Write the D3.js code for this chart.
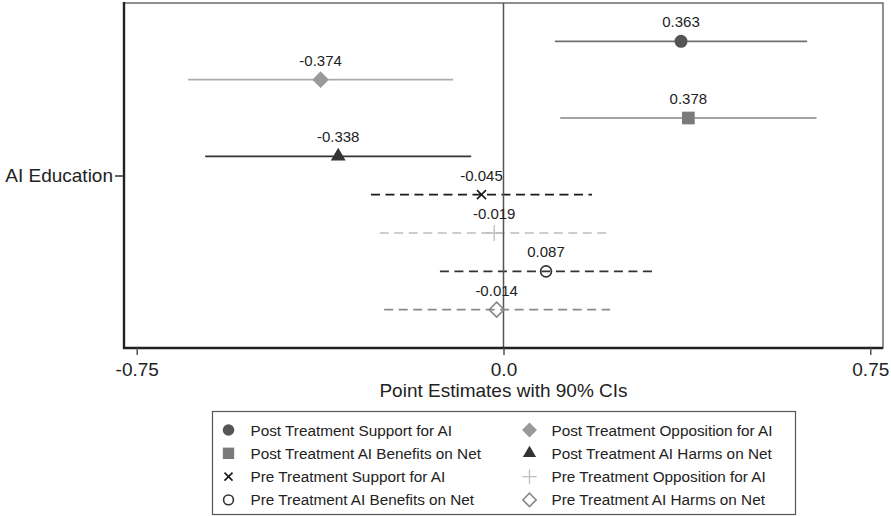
<!DOCTYPE html>
<html lang="en">
<head>
<meta charset="UTF-8">
<title>AI Education coefficient plot</title>
<style>
  body { margin: 0; padding: 0; background: #fff; }
  svg { display: block; font-family: "Liberation Sans", Arial, sans-serif; }
</style>
</head>
<body>
<svg id="chart"></svg>
<script src="https://cdn.jsdelivr.net/npm/d3@7"></script>
<script>
// data
const category = ["AI Education"];
const seriesNames = [
  "Post Treatment Support for AI",
  "Post Treatment Opposition for AI",
  "Post Treatment AI Benefits on Net",
  "Post Treatment AI Harms on Net",
  "Pre Treatment Support for AI",
  "Pre Treatment Opposition for AI",
  "Pre Treatment AI Benefits on Net",
  "Pre Treatment AI Harms on Net"
];
const estimates = [0.363, -0.374, 0.378, -0.338, -0.045, -0.019, 0.087, -0.014];
const ciLow  = [0.105, -0.645, 0.116, -0.610, -0.271, -0.253, -0.130, -0.244];
const ciHigh = [0.621, -0.103, 0.640, -0.066, 0.181, 0.215, 0.305, 0.218];
const xTicks = [-0.75, 0, 0.75];
const xTickLabels = ["-0.75", "0.0", "0.75"];

// styling per series
const marker = ["circle", "diamond", "square", "triangle", "times", "plus", "ocircle", "odiamond"];
const markColor = ["#555", "#9a9a9a", "#7a7a7a", "#333", "#1a1a1a", "#bdbdbd", "#333", "#888"];
const lineColor = ["#707070", "#ababab", "#858585", "#333", "#1a1a1a", "#bdbdbd", "#333", "#8a8a8a"];
const dashed = [false, false, false, false, true, true, true, true];

const width = 891, height = 516;
const plotLeft = 124, plotRight = 883, plotTop = 3, plotBottom = 348;

const svg = d3.select("#chart").attr("width", width).attr("height", height);

const x = d3.scaleLinear().domain([-0.776, 0.776]).range([plotLeft, plotRight]);
const y = d3.scaleLinear().domain([0, seriesNames.length + 1]).range([plotTop, plotBottom]);

function symbolPath(kind, scale) {
  const s = scale || 1;
  const types = {
    circle: [d3.symbolCircle, 133],
    diamond: [d3.symbolDiamond2, 176],
    square: [d3.symbolSquare, 161],
    triangle: [d3.symbolTriangle, 95],
    times: [d3.symbolTimes, 55],
    plus: [d3.symbolPlus, 86],
    ocircle: [d3.symbolCircle, 95],
    odiamond: [d3.symbolDiamond2, 143]
  };
  const t = types[kind];
  return d3.symbol().type(t[0]).size(t[1] * s)();
}
function isStroke(kind) {
  return ["times", "plus", "ocircle", "odiamond"].includes(kind);
}
function drawMarker(g, i, scale) {
  const k = marker[i];
  g.append("path")
    .attr("d", symbolPath(k, scale))
    .attr("fill", isStroke(k) ? "none" : markColor[i])
    .attr("stroke", isStroke(k) ? markColor[i] : "none")
    .attr("stroke-width", k === "plus" ? 1.3 : 1.6);
}

// frame (top / right thinner)
svg.append("rect")
  .attr("x", plotLeft).attr("y", plotTop)
  .attr("width", plotRight - plotLeft).attr("height", plotBottom - plotTop)
  .attr("fill", "none").attr("stroke", "#555").attr("stroke-width", 1.3);

const rows = d3.range(seriesNames.length);

// confidence intervals
svg.append("g").selectAll("line").data(rows).join("line")
  .attr("x1", i => x(ciLow[i])).attr("x2", i => x(ciHigh[i]))
  .attr("y1", i => y(i + 1)).attr("y2", i => y(i + 1))
  .attr("stroke", i => lineColor[i])
  .attr("stroke-width", 1.6)
  .attr("stroke-dasharray", i => dashed[i] ? "9,5.5" : null);

// zero line
svg.append("line")
  .attr("x1", x(0)).attr("x2", x(0))
  .attr("y1", plotTop).attr("y2", plotBottom)
  .attr("stroke", "#555").attr("stroke-width", 1.5);

// markers
svg.append("g").selectAll("g").data(rows).join("g")
  .attr("transform", i => `translate(${x(estimates[i])},${y(i + 1)})`)
  .each(function (i) { drawMarker(d3.select(this), i, 1); });

// estimate labels
svg.append("g").selectAll("text").data(rows).join("text")
  .attr("x", i => x(estimates[i]))
  .attr("y", i => y(i + 1) - 14)
  .attr("text-anchor", "middle")
  .attr("font-size", 15)
  .attr("fill", "#222")
  .text(i => d3.format(".3f")(estimates[i]).replace("−", "-"));

// x axis
const xAxis = d3.axisBottom(x)
  .tickValues(xTicks)
  .tickSize(7)
  .tickPadding(8)
  .tickFormat((d, i) => xTickLabels[i]);
const gx = svg.append("g").attr("transform", `translate(0,${plotBottom})`).call(xAxis);
gx.select(".domain").attr("stroke", "#222").attr("stroke-width", 2.4)
  .attr("d", `M${plotLeft - 1},0H${plotRight}`);
gx.selectAll(".tick line").attr("stroke", "#555").attr("stroke-width", 1.5);
gx.selectAll(".tick text").attr("font-size", 19).attr("fill", "#222")
  .attr("font-family", "\"Liberation Sans\", Arial, sans-serif");

// y axis
const yCat = d3.scalePoint().domain(category).range([y(4.5), y(4.5)]);
const yAxis = d3.axisLeft(yCat).tickSize(9).tickPadding(2);
const gy = svg.append("g").attr("transform", `translate(${plotLeft},0)`).call(yAxis);
gy.select(".domain").attr("stroke", "#222").attr("stroke-width", 2.4)
  .attr("d", `M0,${plotTop - 1}V${plotBottom + 1}`);
gy.selectAll(".tick line").attr("stroke", "#333").attr("stroke-width", 1.5);
gy.selectAll(".tick text").attr("font-size", 19).attr("fill", "#222")
  .attr("font-family", "\"Liberation Sans\", Arial, sans-serif");

// axis title
svg.append("text")
  .attr("x", x(0)).attr("y", 397)
  .attr("text-anchor", "middle")
  .attr("font-size", 19)
  .attr("fill", "#222")
  .text("Point Estimates with 90% CIs");

// legend
const legend = svg.append("g");
legend.append("rect")
  .attr("x", 212.5).attr("y", 411.5)
  .attr("width", 583).attr("height", 103)
  .attr("fill", "#fff").attr("stroke", "#555").attr("stroke-width", 1.2);

const item = legend.selectAll("g.item").data(rows).join("g")
  .attr("class", "item")
  .attr("transform", i => `translate(${i % 2 === 0 ? 228.5 : 529.5},${430 + Math.floor(i / 2) * 23.3})`);
item.each(function (i) { drawMarker(d3.select(this), i, 0.8); });
item.append("text")
  .attr("x", 22)
  .attr("y", 5.5)
  .attr("font-size", 15.3)
  .attr("fill", "#222")
  .text(i => seriesNames[i]);
</script>
</body>
</html>
